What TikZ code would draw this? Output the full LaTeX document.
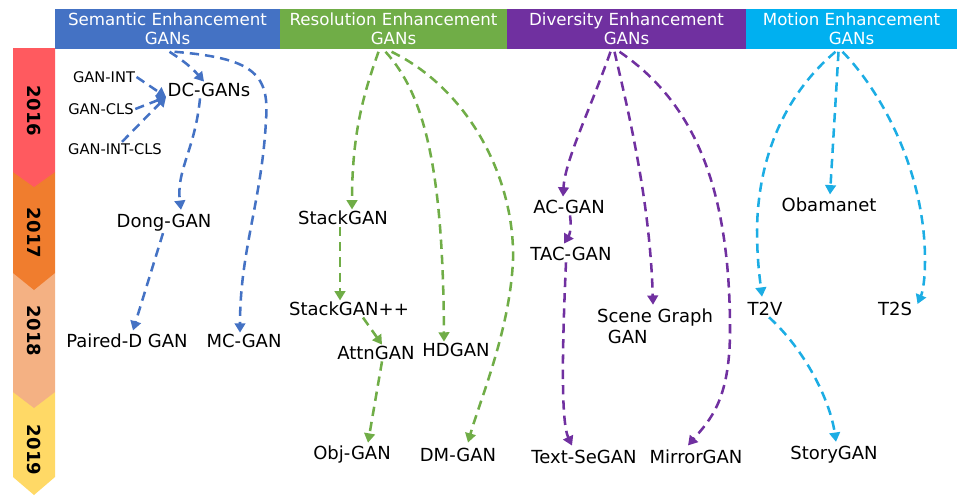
\documentclass[tikz,border=0pt]{standalone}
\usepackage{fontspec}
\setmainfont{DejaVu Sans}
\usetikzlibrary{arrows.meta,positioning,calc}

\definecolor{semblue}{HTML}{4472C4}
\definecolor{resgreen}{HTML}{70AD47}
\definecolor{divpurple}{HTML}{7030A0}
\definecolor{motcyan}{HTML}{00B0F0}
\definecolor{linkcyan}{HTML}{1CADE4}
\definecolor{yrred}{HTML}{FF5A5F}
\definecolor{yrorange}{HTML}{F07D2E}
\definecolor{yrpeach}{HTML}{F4B183}
\definecolor{yryellow}{HTML}{FFD966}

\begin{document}
\begin{tikzpicture}[
  x=0.75pt,y=-0.75pt,
  >={Triangle[length=7pt,width=8pt]},
  model/.style={inner sep=1pt,font=\fontsize{13.5}{16}\selectfont},
  smallmodel/.style={inner sep=1pt,font=\fontsize{11}{13}\selectfont},
  hdr/.style={minimum height=30pt,minimum width=#1*0.75pt,inner sep=0pt,text=white,align=center,
    font=\fontsize{12.5}{14}\selectfont},
  year/.style={rotate=-90,font=\bfseries\fontsize{13.5}{15}\selectfont},
  link/.style={->,line width=1.9pt,dash pattern=on 7pt off 4.5pt}
]
\useasboundingbox (0,0) rectangle (959,496);

% header bar
\node[hdr=225,fill=semblue] (sem) at (167.5,28.5) {Semantic Enhancement\\GANs};
\node[hdr=227,fill=resgreen] (res) at (393.5,28.5) {Resolution Enhancement\\GANs};
\node[hdr=239,fill=divpurple] (div) at (626.5,28.5) {Diversity Enhancement\\GANs};
\node[hdr=211,fill=motcyan] (mot) at (851.5,28.5) {Motion Enhancement\\GANs};

% time line
\fill[yryellow] (13,392) -- (55,392) -- (55,477) -- (34,495) -- (13,477) -- cycle;
\fill[yrpeach] (13,273) -- (55,273) -- (55,392) -- (34,408) -- (13,392) -- cycle;
\fill[yrorange] (13,172) -- (55,172) -- (55,273) -- (34,290) -- (13,273) -- cycle;
\fill[yrred] (13,48) -- (55,48) -- (55,172) -- (34,187) -- (13,172) -- cycle;
\node[year] (y16) at (34,111) {2016};
\node[year] (y17) at (34,233) {2017};
\node[year] (y18) at (34,331) {2018};
\node[year] (y19) at (34,450) {2019};

% semantic
\node[smallmodel] (gint) at (104,77) {GAN-INT};
\node[smallmodel] (gcls) at (101,109) {GAN-CLS};
\node[smallmodel] (gintcls) at (115,149) {GAN-INT-CLS};
\node[model] (dcgan) at (209,90) {DC-GANs};
\node[model] (dong) at (164,223) {Dong-GAN};
\node[model] (paired) at (127,341) {Paired-D GAN};
\node[model] (mcgan) at (244,341) {MC-GAN};

% resolution
\node[model] (stack) at (343,218) {StackGAN};
\node[model] (stackpp) at (349,309) {StackGAN++};
\node[model] (attn) at (376,353) {AttnGAN};
\node[model] (hdgan) at (456,350) {HDGAN};
\node[model] (objgan) at (352,455) {Obj-GAN};
\node[model] (dmgan) at (458,455) {DM-GAN};

% diversity
\node[model] (acgan) at (569,207) {AC-GAN};
\node[model] (tacgan) at (571,254) {TAC-GAN};
\node[model,align=left] (scene) at (655,326) {Scene Graph\\\hspace{0.6em}GAN};
\node[model] (textse) at (584,457) {Text-SeGAN};
\node[model] (mirror) at (696,457) {MirrorGAN};

% motion
\node[model] (obama) at (829,205) {Obamanet};
\node[model] (t2v) at (765,309) {T2V};
\node[model] (t2s) at (895,309) {T2S};
\node[model] (story) at (834,455) {StoryGAN};

\coordinate (dcin) at ([shift={(0,7)}]dcgan.west);

\begin{scope}[every path/.style={link,draw=semblue}]
\draw (gint.east) -- (dcin);
\draw (gcls.east) -- (dcin);
\draw ([shift={(7,0)}]gintcls.north) -- (dcin);
\draw ([shift={(2,3)}]sem.south) to[bend left=8] ([shift={(-5,0)}]dcgan.north);
\draw ([shift={(7,3)}]sem.south) .. controls (250,58) and (270,72) .. (266,120)
  .. controls (262,200) and (240,250) .. ([shift={(-4,0)}]mcgan.north);
\draw ([shift={(-9,0)}]dcgan.south) .. controls (195,150) and (176,170) .. ([shift={(17,-3)}]dong.north);
\draw ([shift={(-1,0)}]dong.south) -- ([shift={(6,-2)}]paired.north);
\end{scope}

\begin{scope}[every path/.style={link,draw=resgreen}]
\draw ([shift={(-15,3)}]res.south) .. controls (365,90) and (352,130) .. ([shift={(9,0)}]stack.north);
\draw ([shift={(-3,0)}]stack.south) -- ([shift={(-9,0)}]stackpp.north);
\draw ([shift={(14,0)}]stackpp.south) -- ([shift={(6,0)}]attn.north);
\draw ([shift={(-8,3)}]res.south) .. controls (425,95) and (443,170) .. ([shift={(-12,0)}]hdgan.north);
\draw ([shift={(-2,3)}]res.south) .. controls (470,90) and (515,180) .. (513,260)
  .. controls (510,330) and (480,400) .. ([shift={(10,-4)}]dmgan.north);
\draw ([shift={(6,0)}]attn.south) -- ([shift={(16,-2)}]objgan.north);
\end{scope}

\begin{scope}[every path/.style={link,draw=divpurple}]
\draw ([shift={(-16,3)}]div.south) .. controls (590,110) and (565,160) .. ([shift={(-6,-2)}]acgan.north);
\draw ([shift={(1,0)}]acgan.south) to[bend left=20] ([shift={(-7,-2)}]tacgan.north);
\draw ([shift={(-12,3)}]div.south) .. controls (628,110) and (650,200) .. ([shift={(-2,-2)}]scene.north);
\draw ([shift={(-7,3)}]div.south) .. controls (690,100) and (730,180) .. (730,330)
  .. controls (730,400) and (710,420) .. ([shift={(-8,-3)}]mirror.north);
\draw ([shift={(-5,0)}]tacgan.south) .. controls (563,330) and (560,420) .. ([shift={(-12,-3)}]textse.north);
\end{scope}

\begin{scope}[every path/.style={link,draw=linkcyan}]
\draw ([shift={(-13,3)}]mot.south) -- ([shift={(1,-2)}]obama.north);
\draw ([shift={(-16,3)}]mot.south) .. controls (790,90) and (758,150) .. (757,230)
  .. controls (757,260) and (760,280) .. ([shift={(-3,-4)}]t2v.north);
\draw ([shift={(-9,3)}]mot.south) .. controls (880,90) and (925,170) .. (925,260)
  .. controls (925,290) and (920,298) .. ([shift={(4,-5)}]t2s.east);
\draw ([shift={(4,0)}]t2v.south) .. controls (805,350) and (830,400) .. ([shift={(2,-3)}]story.north);
\end{scope}
\end{tikzpicture}
\end{document}
